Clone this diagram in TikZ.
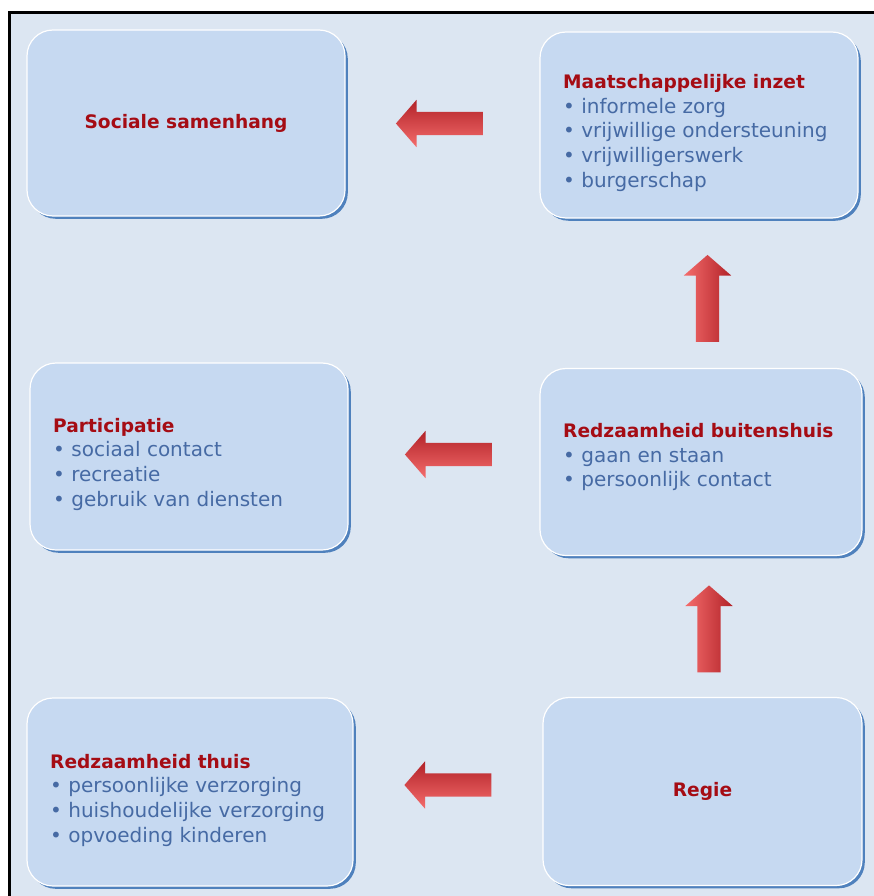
\documentclass[tikz,border=0pt]{standalone}
\usepackage{fontspec}
\setmainfont{DejaVu Sans}
\usetikzlibrary{shapes.arrows, shadows}

\definecolor{bgblue}{RGB}{220,230,242}
\definecolor{boxblue}{RGB}{198,217,241}
\definecolor{shadowblue}{RGB}{79,129,189}
\definecolor{titlered}{RGB}{165,12,20}
\definecolor{itemblue}{RGB}{70,106,164}
\definecolor{arrowdark}{RGB}{178,34,40}
\definecolor{arrowlight}{RGB}{244,108,108}

\newcommand{\kopstijl}{\bfseries\fontsize{18.6}{24.6}\selectfont}

\begin{document}
\begin{tikzpicture}[x=1pt, y=-1pt,
    blok/.style={rectangle, rounded corners=26pt, draw=white, line width=1.2pt,
      fill=boxblue, inner sep=0pt,
      general shadow={fill=shadowblue, shadow xshift=2.8pt, shadow yshift=-2.8pt}},
    lijst/.style={anchor=base west, align=left, inner sep=0pt, text=itemblue,
      font=\fontsize{20}{24.6}\selectfont},
    pijl/.style={single arrow, minimum height=87pt, inner sep=11.5pt,
      single arrow head extend=12pt, single arrow tip angle=98},
    pijllinks/.style={pijl, shape border rotate=180, top color=arrowdark, bottom color=arrowlight},
    pijlop/.style={pijl, shape border rotate=90, left color=arrowlight, right color=arrowdark}]
  % page and frame
  \clip (0,0) rectangle (874,896);
  \fill[white] (0,0) rectangle (874,896);
  \draw[line width=3pt, fill=bgblue] (9.5,12.5) rectangle (890,910);

  % the six boxes
  \node[blok, minimum width=318pt, minimum height=186pt, text=titlered, font=\kopstijl]
    (samenhang) at (186,123) {Sociale samenhang};
  \node[blok, minimum width=318pt, minimum height=186pt] (inzet) at (699,125) {};
  \node[blok, minimum width=318pt, minimum height=187pt] (participatie) at (189,456.5) {};
  \node[blok, minimum width=322pt, minimum height=187pt] (buitenshuis) at (701,462) {};
  \node[blok, minimum width=326pt, minimum height=188pt] (thuis) at (190,792) {};
  \node[blok, minimum width=319pt, minimum height=188pt, text=titlered, font=\kopstijl]
    (regie) at (702.5,791.5) {Regie};

  % texts in the boxes (placed on the baseline of their last line)
  \node[lijst] (inzettekst) at (563,187) {{\color{titlered}\kopstijl Maatschappelijke inzet}\\
    • informele zorg\\• vrijwillige ondersteuning\\• vrijwilligerswerk\\• burgerschap};
  \node[lijst] (participatietekst) at (53,506) {{\color{titlered}\kopstijl Participatie}\\
    • sociaal contact\\• recreatie\\• gebruik van diensten};
  \node[lijst] (buitenshuistekst) at (563,486.7) {{\color{titlered}\kopstijl Redzaamheid buitenshuis}\\
    • gaan en staan\\• persoonlijk contact};
  \node[lijst] (thuistekst) at (50,842) {{\color{titlered}\kopstijl Redzaamheid thuis}\\
    • persoonlijke verzorging\\• huishoudelijke verzorging\\• opvoeding kinderen};

  % block arrows between the boxes
  \node[pijllinks] (pijl1) at (444.5,123.5) {};
  \node[pijllinks] (pijl2) at (453.5,454.5) {};
  \node[pijllinks] (pijl3) at (453,785) {};
  \node[pijlop] (pijl4) at (707.5,303.5) {};
  \node[pijlop] (pijl5) at (709,634) {};
\end{tikzpicture}
\end{document}
